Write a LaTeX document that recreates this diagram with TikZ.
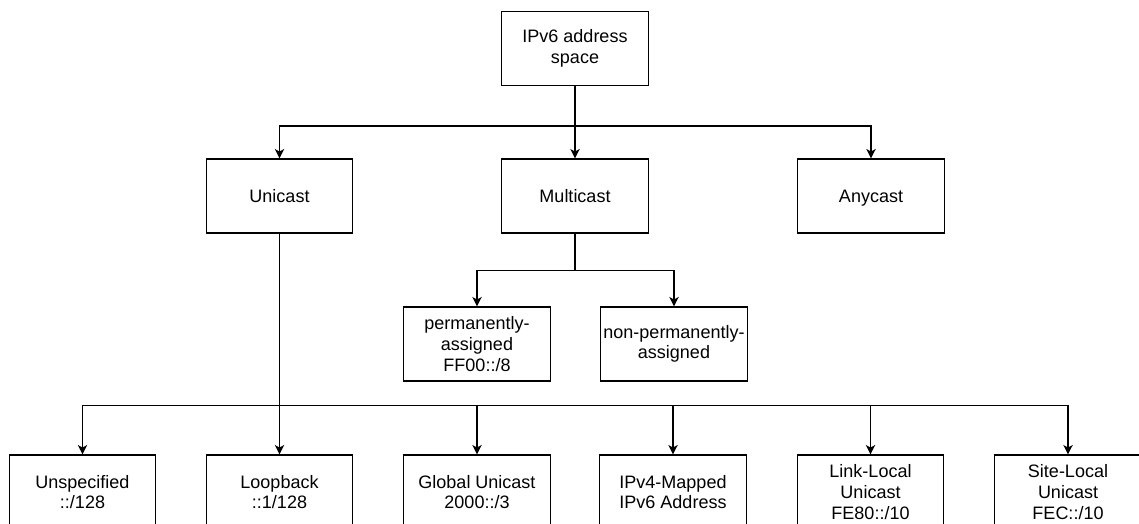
\documentclass[tikz,border=0pt]{standalone}
\usepackage{fontspec}
\setmainfont{Liberation Sans}
\usetikzlibrary{arrows.meta}
\begin{document}
\begin{tikzpicture}[
x=0.75pt, y=-0.75pt,
addrbox/.style={rectangle, draw=black, line width=0.9pt, minimum width=110pt, minimum height=55.5pt, inner sep=1pt, align=center, font=\fontsize{13.5}{15.5}\selectfont},
link/.style={line width=1pt, -{Stealth[length=7pt, width=7pt, inset=1.8pt]}},
]
\useasboundingbox (0,0) rectangle (1139,524);
%Nodes
\node[addrbox]  (space)     at (575,48.5) {IPv6 address\\space};
\node[addrbox]  (unicast)   at (279.5,196) {Unicast};
\node[addrbox]  (multicast) at (575,196) {Multicast};
\node[addrbox, text depth=0pt]  (anycast)   at (871,196) {Anycast};
\node[addrbox]  (perm)      at (477,344) {permanently-\\assigned\\FF00::/8};
\node[addrbox]  (nonperm)   at (674,344) {non-permanently-\\assigned};
\node[addrbox]  (unspec)    at (82.5,492) {Unspecified\\::/128};
\node[addrbox]  (loop)      at (279.5,492) {Loopback\\::1/128};
\node[addrbox]  (global)    at (477,492) {Global Unicast\\2000::/3};
\node[addrbox]  (mapped)    at (673,492) {IPv4-Mapped\\IPv6 Address};
\node[addrbox]  (linklocal) at (870.5,492) {Link-Local\\Unicast\\FE80::/10};
\node[addrbox]  (sitelocal) at (1068,492) {Site-Local\\Unicast\\FEC::/10};

%Lines
\draw[link] (space.south) -- ++(0,40) -| (unicast.north);
\draw[link] (space.south) -- (multicast.north);
\draw[link] (space.south) -- ++(0,40) -| (anycast.north);
\draw[link] (multicast.south) -- ++(0,37) -| (perm.north);
\draw[link] (multicast.south) -- ++(0,37) -| (nonperm.north);
\draw[link] (unicast.south) -- ++(0,172) -| (unspec.north);
\draw[link] (unicast.south) -- (loop.north);
\draw[link] (unicast.south) -- ++(0,172) -| (global.north);
\draw[link] (unicast.south) -- ++(0,172) -| (mapped.north);
\draw[link] (unicast.south) -- ++(0,172) -| (linklocal.north);
\draw[link] (unicast.south) -- ++(0,172) -| (sitelocal.north);
\end{tikzpicture}
\end{document}
